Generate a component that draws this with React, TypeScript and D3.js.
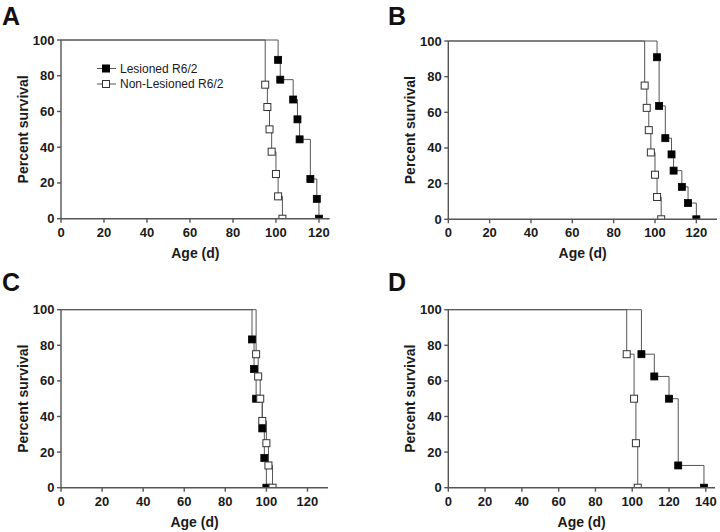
import React from "react";
import * as d3 from "d3";

const yTicks = [0, 20, 40, 60, 80, 100];
const xTicksAC = [0, 20, 40, 60, 80, 100, 120];
const xTicksD = [0, 20, 40, 60, 80, 100, 120, 140];
const legendLabels = ["Lesioned R6/2", "Non-Lesioned R6/2"];

// Panel A
const aLesT = [101, 102, 108, 110, 111, 116, 119, 120];
const aLesS = [88.9, 77.8, 66.7, 55.6, 44.4, 22.2, 11.1, 0];
const aNonT = [95, 96, 97, 98, 100, 101, 103];
const aNonS = [75, 62.5, 50, 37.5, 25, 12.5, 0];
// Panel B
const bLesT = [101, 102, 105, 108, 109, 113, 116, 120];
const bLesS = [90.9, 63.6, 45.5, 36.4, 27.3, 18.2, 9.1, 0];
const bNonT = [95, 96, 97, 98, 100, 101, 103];
const bNonS = [75, 62.5, 50, 37.5, 25, 12.5, 0];
// Panel C
const cLesT = [93, 94, 95, 98, 99, 100];
const cLesS = [83.3, 66.7, 50, 33.3, 16.7, 0];
const cNonT = [95, 96, 97, 98, 100, 101, 103];
const cNonS = [75, 62.5, 50, 37.5, 25, 12.5, 0];
// Panel D
const dLesT = [105, 112, 120, 125, 139];
const dLesS = [75, 62.5, 50, 12.5, 0];
const dNonT = [97, 101, 102, 103];
const dNonS = [75, 50, 25, 0];

const panels = [
  { letter: "A", lx: 2, ly: 25, x0: 61, x1: 329.7, xMax: 125, yTop: 40, yBot: 218.7, xTicks: xTicksAC, les: [aLesT, aLesS], non: [aNonT, aNonS], legend: true },
  { letter: "B", lx: 388, ly: 25, x0: 448.3, x1: 717, xMax: 130, yTop: 41, yBot: 219.3, xTicks: xTicksAC, les: [bLesT, bLesS], non: [bNonT, bNonS], legend: false },
  { letter: "C", lx: 2, ly: 291, x0: 61, x1: 328, xMax: 130, yTop: 309.7, yBot: 487.7, xTicks: xTicksAC, les: [cLesT, cLesS], non: [cNonT, cNonS], legend: false },
  { letter: "D", lx: 388, ly: 291, x0: 448.3, x1: 715, xMax: 145, yTop: 309.7, yBot: 487.7, xTicks: xTicksD, les: [dLesT, dLesS], non: [dNonT, dNonS], legend: false },
];

const FONT = "'Liberation Sans', Arial, sans-serif";
const LINE = "#555";
const MS = 7;

function stepPath(x: d3.ScaleLinear<number, number>, y: d3.ScaleLinear<number, number>, t: number[], s: number[]) {
  const pts: [number, number][] = [[0, 100]];
  let prev = 100;
  t.forEach((ti, i) => {
    pts.push([ti, prev]);
    pts.push([ti, s[i]]);
    prev = s[i];
  });
  return d3.line<[number, number]>().x((d) => x(d[0])).y((d) => y(d[1]))(pts) || "";
}

function Panel({ p }: { p: (typeof panels)[number] }) {
  const x = d3.scaleLinear().domain([0, p.xMax]).range([p.x0, p.x1]);
  const y = d3.scaleLinear().domain([0, 100]).range([p.yBot, p.yTop]);
  const cx = (p.x0 + p.x1) / 2;
  const cy = (p.yTop + p.yBot) / 2;
  const clipId = "clip" + p.letter;
  return (
    <g>
      <defs>
        <clipPath id={clipId}>
          <rect x={p.x0} y={p.yTop - 20} width={p.x1 - p.x0 + 10} height={p.yBot - p.yTop + 20} />
        </clipPath>
      </defs>
      <text x={p.lx} y={p.ly} fontFamily={FONT} fontWeight="bold" fontSize={25} fill="#111">
        {p.letter}
      </text>
      {/* step lines */}
      <path d={stepPath(x, y, p.non[0], p.non[1])} fill="none" stroke={LINE} strokeWidth={1} />
      <path d={stepPath(x, y, p.les[0], p.les[1])} fill="none" stroke={LINE} strokeWidth={1} />
      {/* markers */}
      <g clipPath={`url(#${clipId})`}>
        {p.les[0].map((t, i) => (
          <rect key={"l" + i} x={x(t) - MS / 2} y={y(p.les[1][i]) - MS / 2} width={MS} height={MS} fill="#000" stroke="#000" strokeWidth={0.8} />
        ))}
        {p.non[0].map((t, i) => (
          <rect key={"n" + i} x={x(t) - MS / 2} y={y(p.non[1][i]) - MS / 2} width={MS} height={MS} fill="#fff" stroke="#333" strokeWidth={1} />
        ))}
      </g>
      {/* axes */}
      <line x1={p.x0} x2={p.x1} y1={p.yBot} y2={p.yBot} stroke={LINE} strokeWidth={1.4} />
      <line x1={p.x0} x2={p.x0} y1={p.yTop} y2={p.yBot} stroke={LINE} strokeWidth={1.4} />
      {yTicks.map((v) => (
        <g key={"y" + v}>
          <line x1={p.x0 - 4} x2={p.x0} y1={y(v)} y2={y(v)} stroke={LINE} strokeWidth={1.4} />
          <text x={p.x0 - 6.5} y={y(v) + 4.5} textAnchor="end" fontFamily={FONT} fontWeight="bold" fontSize={13} fill="#1a1a1a">
            {v}
          </text>
        </g>
      ))}
      {p.xTicks.map((v) => (
        <g key={"x" + v}>
          <line x1={x(v)} x2={x(v)} y1={p.yBot} y2={p.yBot + 4} stroke={LINE} strokeWidth={1.4} />
          <text x={x(v)} y={p.yBot + 18} textAnchor="middle" fontFamily={FONT} fontWeight="bold" fontSize={13} fill="#1a1a1a">
            {v}
          </text>
        </g>
      ))}
      <text x={cx} y={p.yBot + 39} textAnchor="middle" fontFamily={FONT} fontWeight="bold" fontSize={14} fill="#1a1a1a">
        Age (d)
      </text>
      <text
        transform={`translate(${p.x0 - 38},${cy}) rotate(-90)`}
        textAnchor="middle"
        dominantBaseline="central"
        fontFamily={FONT}
        fontWeight="bold"
        fontSize={14}
        fill="#1a1a1a"
      >
        Percent survival
      </text>
      {p.legend && (
        <g>
          {legendLabels.map((lab, i) => {
            const ly = p.yTop + 28.5 + i * 15.5;
            return (
              <g key={lab}>
                <line x1={97} x2={116} y1={ly} y2={ly} stroke={LINE} strokeWidth={1} />
                <rect x={106 - MS / 2} y={ly - MS / 2} width={MS} height={MS} fill={i === 0 ? "#000" : "#fff"} stroke={i === 0 ? "#000" : "#333"} strokeWidth={1} />
                <text x={120} y={ly + 4.3} fontFamily={FONT} fontSize={12} fill="#1a1a1a">
                  {lab}
                </text>
              </g>
            );
          })}
        </g>
      )}
    </g>
  );
}

export default function App() {
  return (
    <svg width={720} height={532} style={{ position: "absolute", left: 0, top: 0, background: "#fff" }}>
      <rect width={720} height={532} fill="#fff" />
      {panels.map((p) => (
        <Panel key={p.letter} p={p} />
      ))}
    </svg>
  );
}
